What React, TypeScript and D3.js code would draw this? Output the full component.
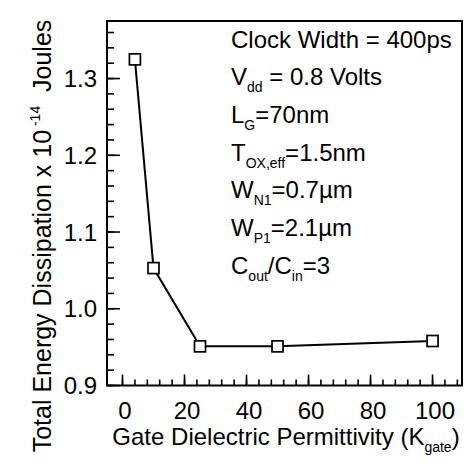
import React from "react";
import * as d3 from "d3";

const kValues = [4, 10, 25, 50, 100];
const energy = [1.325, 1.053, 0.951, 0.951, 0.958];
const xTickValues = [0, 20, 40, 60, 80, 100];
const yTickValues = [0.9, 1.0, 1.1, 1.2, 1.3];
const xMinorStep = 4;
const yMinorStep = 0.02;

type Seg = { t: string; sub?: boolean };
const annotationLines: Seg[][] = [
  [{ t: "Clock Width = 400ps" }],
  [{ t: "V" }, { t: "dd", sub: true }, { t: " = 0.8 Volts" }],
  [{ t: "L" }, { t: "G", sub: true }, { t: "=70nm" }],
  [{ t: "T" }, { t: "OX,eff", sub: true }, { t: "=1.5nm" }],
  [{ t: "W" }, { t: "N1", sub: true }, { t: "=0.7\u00b5m" }],
  [{ t: "W" }, { t: "P1", sub: true }, { t: "=2.1\u00b5m" }],
  [{ t: "C" }, { t: "out", sub: true }, { t: "/C" }, { t: "in", sub: true }, { t: "=3" }],
];

const W = 471;
const H = 464;
const left = 107;
const right = 462;
const top = 21;
const bottom = 385.5;
const FONT = "'Liberation Sans', Arial, Helvetica, sans-serif";

export default function App() {
  const x = d3.scaleLinear().domain([-5, 109.5]).range([left, right]);
  const y = d3.scaleLinear().domain([0.9, 1.375]).range([bottom, top]);
  const line = d3
    .line<number>()
    .x((_, i) => x(kValues[i]))
    .y((d) => y(d));
  const fmt = d3.format(".1f");

  const xMinor = d3.range(0, 109, xMinorStep);
  const yMinor = d3.range(0.9, 1.37, yMinorStep);

  const lineH = 37.7;
  const textX = 231;
  const textY0 = 47.5;

  return (
    <>
      <style>{"body{margin:0;background:#fff}"}</style>
      <svg width={W} height={H} style={{ display: "block", fontFamily: FONT }}>
        <rect x={0} y={0} width={W} height={H} fill="#fff" />
        {/* minor ticks */}
        {xMinor.map((v) => (
          <line key={"xm" + v} x1={x(v)} x2={x(v)} y1={bottom} y2={bottom - 6} stroke="#000" strokeWidth={1.6} />
        ))}
        {xTickValues.map((v) => (
          <line key={"xM" + v} x1={x(v)} x2={x(v)} y1={bottom} y2={bottom - 11} stroke="#000" strokeWidth={1.6} />
        ))}
        {yMinor.map((v, i) => (
          <line key={"ym" + i} x1={left} x2={left + 7} y1={y(v)} y2={y(v)} stroke="#000" strokeWidth={1.6} />
        ))}
        {yTickValues.map((v) => (
          <line key={"yM" + v} x1={left} x2={left + 13} y1={y(v)} y2={y(v)} stroke="#000" strokeWidth={1.6} />
        ))}
        <rect x={left} y={top} width={right - left} height={bottom - top} fill="none" stroke="#000" strokeWidth={2} />

        {/* tick labels */}
        {yTickValues.map((v) => (
          <text key={"yl" + v} x={97} y={y(v)} dy="0.36em" textAnchor="end" fontSize={24}>
            {fmt(v)}
          </text>
        ))}
        {xTickValues.map((v) => (
          <text key={"xl" + v} x={x(v)} dx={2.5} y={419} textAnchor="middle" fontSize={24}>
            {v}
          </text>
        ))}

        {/* data */}
        <path d={line(energy) || ""} fill="none" stroke="#000" strokeWidth={2} />
        {energy.map((v, i) => (
          <rect
            key={"p" + i}
            x={x(kValues[i]) - 5.5}
            y={y(v) - 5.5}
            width={11}
            height={11}
            fill="#fff"
            stroke="#000"
            strokeWidth={1.7}
          />
        ))}

        {/* annotation */}
        {annotationLines.map((segs, li) => (
          <text key={"a" + li} x={textX} y={textY0 + li * lineH} fontSize={24}>
            {segs.map((s, si) => {
              const prevSub = si > 0 && segs[si - 1].sub;
              let dy = 0;
              if (s.sub) dy = 7;
              else if (prevSub) dy = -7;
              return (
                <tspan key={si} dy={dy} fontSize={s.sub ? 14 : 24}>
                  {s.t}
                </tspan>
              );
            })}
          </text>
        ))}

        {/* x title */}
        <text x={286} y={445} textAnchor="middle" fontSize={24}>
          <tspan>Gate Dielectric Permittivity (K</tspan>
          <tspan dy={7} fontSize={14}>gate</tspan>
          <tspan dy={-7}>)</tspan>
        </text>

        {/* y title */}
        <text transform="translate(51,236) rotate(-90)" textAnchor="middle" fontSize={25}>
          <tspan>Total Energy Dissipation x 10</tspan>
          <tspan dy={-11} fontSize={14}>{"\u00a0-14"}</tspan>
          <tspan dy={11}>{"\u00a0\u00a0Joules"}</tspan>
        </text>
      </svg>
    </>
  );
}
